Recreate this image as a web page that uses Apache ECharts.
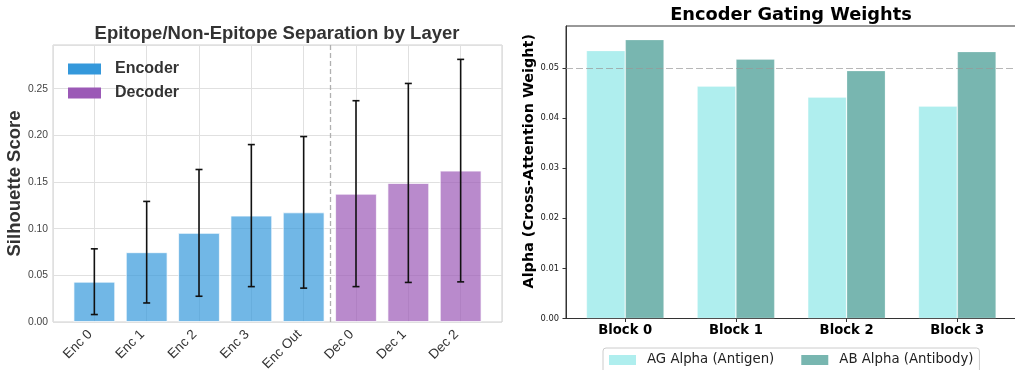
<!DOCTYPE html>
<html>
<head>
<meta charset="utf-8">
<script src="https://cdn.jsdelivr.net/npm/echarts@6/dist/echarts.min.js"></script>
<style>
  html, body { margin: 0; padding: 0; background: #ffffff; }
  #chart { width: 1015px; height: 370px; }
</style>
</head>
<body>
<div id="chart"></div>
<script>
// Silhouette scores per layer (mean and standard deviation)
const layers = ['Enc 0', 'Enc 1', 'Enc 2', 'Enc 3', 'Enc Out', 'Dec 0', 'Dec 1', 'Dec 2'];
const encoderLayerCount = 5;
const silhouetteMean = [0.0432, 0.0748, 0.0955, 0.1140, 0.1175, 0.1375, 0.1490, 0.1622];
const silhouetteStd = [0.0352, 0.0544, 0.0679, 0.0761, 0.0812, 0.0996, 0.1066, 0.1192];

// Encoder gating weights per block
const blocks = ['Block 0', 'Block 1', 'Block 2', 'Block 3'];
const agAlpha = [0.0535, 0.0464, 0.0442, 0.0424];
const abAlpha = [0.0557, 0.0518, 0.0495, 0.0533];
const uniformWeight = 0.05;

const SANS = 'Liberation Sans';
const DEJAVU = 'DejaVu Sans';

const encoderData = [];
const decoderData = [];
const errorData = [];
layers.forEach((name, i) => {
  const m = silhouetteMean[i];
  (i < encoderLayerCount ? encoderData : decoderData).push([i, m]);
  errorData.push([i, m - silhouetteStd[i], m + silhouetteStd[i]]);
});

const chart = echarts.init(document.getElementById('chart'), null, { renderer: 'canvas' });

const option = {
  backgroundColor: '#ffffff',
  animation: false,
  title: [
    {
      text: 'Epitope/Non-Epitope Separation by Layer',
      left: 272, top: 19, textAlign: 'center',
      textStyle: { fontFamily: SANS, fontSize: 18.5, fontWeight: 'bold', color: '#333333' }
    },
    {
      text: 'Encoder Gating Weights',
      left: 786, top: 1, textAlign: 'center',
      textStyle: { fontFamily: DEJAVU, fontSize: 17.8, fontWeight: 'bold', color: '#000000' }
    }
  ],
  legend: [
    {
      orient: 'vertical',
      left: 63, top: 55,
      padding: 5,
      itemWidth: 33, itemHeight: 11, itemGap: 6,
      icon: 'rect',
      textStyle: { fontFamily: SANS, fontSize: 16, fontWeight: 'bold', color: '#333333', lineHeight: 18, padding: [0, 0, 0, 9] },
      data: [
        { name: 'Encoder', itemStyle: { color: '#3498db', opacity: 1, borderWidth: 0 } },
        { name: 'Decoder', itemStyle: { color: '#9b59b6', opacity: 1, borderWidth: 0 } }
      ]
    },
    {
      orient: 'horizontal',
      left: 603, top: 348,
      padding: [4, 6, 10, 6],
      borderColor: '#cccccc', borderWidth: 1, borderRadius: 3,
      backgroundColor: '#ffffff',
      itemWidth: 27, itemHeight: 10, itemGap: 27,
      icon: 'rect',
      textStyle: { fontFamily: DEJAVU, fontSize: 13.3, color: '#222222', lineHeight: 16, padding: [0, 0, 0, 6] },
      data: [
        { name: 'AG Alpha (Antigen)', itemStyle: { borderWidth: 0 } },
        { name: 'AB Alpha (Antibody)', itemStyle: { borderWidth: 0 } }
      ]
    }
  ],
  grid: [
    { left: 53, top: 45, width: 449, height: 277, outerBoundsMode: 'none', show: true, borderColor: '#cfcfcf', borderWidth: 1, backgroundColor: 'transparent' },
    { left: 566, top: 26, width: 450.5, height: 292.5, outerBoundsMode: 'none', show: true, borderColor: '#333333', borderWidth: 1, backgroundColor: 'transparent' }
  ],
  xAxis: [
    {
      gridIndex: 0, type: 'value', min: -0.79, max: 7.79, minInterval: 1, maxInterval: 1,
      axisLine: { show: false, onZero: false }, axisTick: { show: false },
      splitLine: { show: true, lineStyle: { color: '#e0e0e0', width: 1 } },
      axisLabel: {
        rotate: 45, margin: 6, padding: [0, 6, 0, 0], fontFamily: SANS, fontSize: 13.5, color: '#333333',
        formatter: v => (Number.isInteger(v) && layers[v] !== undefined) ? layers[v] : ''
      }
    },
    {
      gridIndex: 1, type: 'value', min: -0.535, max: 3.535,
      axisLine: { show: true, onZero: false, lineStyle: { color: '#333333', width: 1 } },
      axisTick: { show: true, length: 3.5, lineStyle: { color: '#333333' }, customValues: [0, 1, 2, 3] },
      splitLine: { show: false },
      axisLabel: {
        customValues: [0, 1, 2, 3], margin: 6, fontFamily: DEJAVU, fontSize: 13.2, fontWeight: 'bold', color: '#000000',
        formatter: v => blocks[v]
      }
    }
  ],
  yAxis: [
    {
      gridIndex: 0, type: 'value', min: 0, max: 0.2968, interval: 0.05,
      axisLine: { show: false, onZero: false }, axisTick: { show: false },
      splitLine: { show: true, lineStyle: { color: '#e0e0e0', width: 1 } },
      axisLabel: { margin: 5, fontFamily: SANS, fontSize: 10.3, color: '#444444', showMaxLabel: false, formatter: v => v.toFixed(2) },
      name: 'Silhouette Score', nameLocation: 'middle', nameGap: 28,
      nameTextStyle: { fontFamily: SANS, fontSize: 18.5, fontWeight: 'bold', color: '#333333' }
    },
    {
      gridIndex: 1, type: 'value', min: 0, max: 0.0584, interval: 0.01,
      axisLine: { show: true, onZero: false, lineStyle: { color: '#333333', width: 1 } },
      axisTick: { show: true, length: 3.5, lineStyle: { color: '#333333' } },
      splitLine: { show: false },
      axisLabel: { margin: 7, fontFamily: DEJAVU, fontSize: 8.3, color: '#222222', showMaxLabel: false, formatter: v => v.toFixed(2) },
      name: 'Alpha (Cross-Attention Weight)', nameLocation: 'middle', nameGap: 30,
      nameTextStyle: { fontFamily: DEJAVU, fontSize: 14.4, fontWeight: 'bold', color: '#000000', padding: [0, 0, 0, 22] }
    }
  ],
  series: [
    {
      name: 'Encoder', type: 'bar', xAxisIndex: 0, yAxisIndex: 0,
      data: encoderData, barWidth: 41.8, barGap: '-100%',
      itemStyle: { color: '#3498db', opacity: 0.7, borderColor: '#ffffff', borderWidth: 1 },
      markLine: {
        silent: true, symbol: 'none', label: { show: false },
        lineStyle: { color: '#b0b0b0', type: [5, 3], width: 1.3 },
        data: [{ xAxis: encoderLayerCount - 0.5 }]
      }
    },
    {
      name: 'Decoder', type: 'bar', xAxisIndex: 0, yAxisIndex: 0,
      data: decoderData, barWidth: 41.8, barGap: '-100%',
      itemStyle: { color: '#9b59b6', opacity: 0.7, borderColor: '#ffffff', borderWidth: 1 }
    },
    {
      name: 'errors', type: 'custom', xAxisIndex: 0, yAxisIndex: 0, z: 5, silent: true,
      data: errorData,
      encode: { x: 0, y: [1, 2] },
      renderItem: (params, api) => {
        const x = api.value(0);
        const lo = api.coord([x, api.value(1)]);
        const hi = api.coord([x, api.value(2)]);
        const cap = 3.5;
        const style = { stroke: '#111111', lineWidth: 1.6 };
        return {
          type: 'group',
          children: [
            { type: 'line', shape: { x1: lo[0], y1: lo[1], x2: hi[0], y2: hi[1] }, style },
            { type: 'line', shape: { x1: lo[0] - cap, y1: lo[1], x2: lo[0] + cap, y2: lo[1] }, style },
            { type: 'line', shape: { x1: hi[0] - cap, y1: hi[1], x2: hi[0] + cap, y2: hi[1] }, style }
          ]
        };
      }
    },
    {
      name: 'AG Alpha (Antigen)', type: 'bar', xAxisIndex: 1, yAxisIndex: 1,
      data: agAlpha.map((v, i) => [i, v]), barWidth: 38.85, barGap: '0%',
      itemStyle: { color: '#afeeee', borderColor: 'rgba(255,255,255,0.3)', borderWidth: 0.8 }
    },
    {
      name: 'AB Alpha (Antibody)', type: 'bar', xAxisIndex: 1, yAxisIndex: 1,
      data: abAlpha.map((v, i) => [i, v]), barWidth: 38.85, barGap: '0%',
      itemStyle: { color: '#78b6b0', borderColor: 'rgba(255,255,255,0.3)', borderWidth: 0.8 },
      markLine: {
        silent: true, symbol: 'none', label: { show: false }, z: 10,
        lineStyle: { color: '#999999', opacity: 0.7, type: [7, 3], width: 1.2 },
        data: [{ yAxis: uniformWeight }]
      }
    }
  ]
};

chart.setOption(option);
</script>
</body>
</html>
